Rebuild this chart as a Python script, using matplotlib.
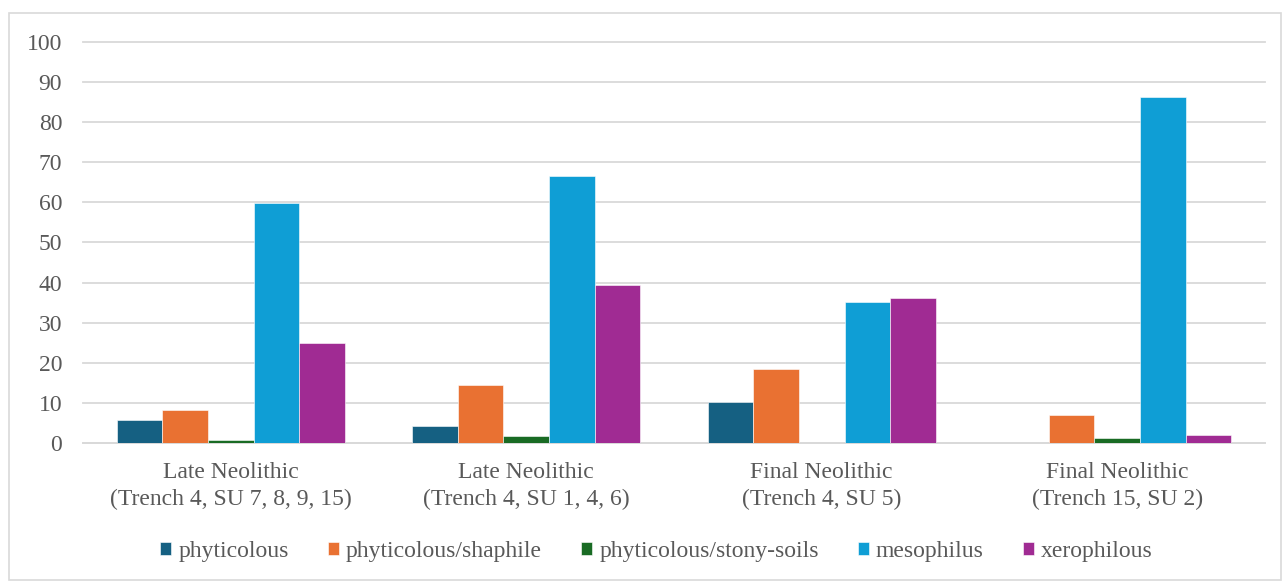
import numpy as np
import matplotlib.pyplot as plt
from matplotlib.patches import Rectangle

categories = ['Late Neolithic\n(Trench 4, SU 7, 8, 9, 15)',
              'Late Neolithic\n(Trench 4, SU 1, 4, 6)',
              'Final Neolithic\n(Trench 4, SU 5)',
              'Final Neolithic\n(Trench 15, SU 2)']
series = ['phyticolous', 'phyticolous/shaphile', 'phyticolous/stony-soils',
          'mesophilus', 'xerophilous']
phyticolous = [5.7, 4.3, 10.2, 0]
shaphile = [8.2, 14.4, 18.5, 7.0]
stony = [0.8, 1.7, 0, 1.2]
mesophilus = [59.9, 66.6, 35.1, 86.4]
xerophilous = [25.0, 39.4, 36.1, 2.0]
colors = ['#156082', '#e97132', '#196b24', '#0f9ed5', '#a02b93']

plt.rcParams['font.family'] = ['Liberation Serif', 'DejaVu Serif']
text_color = '#595959'
fs = 17

fig = plt.figure(figsize=(12.82, 5.81), dpi=100)
ax = fig.add_axes([83/1282, 1 - 443/581, (1265 - 83)/1282, (443 - 42)/581])

# light frame around the whole chart
fig.patches.append(Rectangle((9/1282, 0.002), 1 - 10/1282, 1 - 13/581 - 0.002,
                             transform=fig.transFigure, fill=False,
                             edgecolor='#d9d9d9', linewidth=1.2))

x = np.arange(len(categories))
width = 0.154
data = [phyticolous, shaphile, stony, mesophilus, xerophilous]
for i, (vals, name) in enumerate(zip(data, series)):
    ax.bar(x + (i - 2) * width, vals, width, color=colors[i], label=name,
           edgecolor='white', linewidth=0.4, zorder=3)

ax.set_xlim(-0.5, len(categories) - 0.5)
ax.set_ylim(0, 100)
ax.set_yticks(range(0, 101, 10))
ax.yaxis.grid(True, color='#d9d9d9', linewidth=1.3, zorder=0)
for gl in ax.get_ygridlines():
    gl.set_clip_on(False)
ax.set_axisbelow(True)
for s in ['top', 'right', 'left']:
    ax.spines[s].set_visible(False)
ax.spines['bottom'].set_color('#d9d9d9')
ax.spines['bottom'].set_linewidth(1.3)
ax.tick_params(axis='both', length=0, labelsize=fs, colors=text_color)
ax.tick_params(axis='y', pad=15)
ax.tick_params(axis='x', pad=14)
ax.set_xticks(x)
ax.set_xticklabels(categories, linespacing=1.32)

leg = fig.legend(loc='center', bbox_to_anchor=(656.5/1282, 1 - 551/581), ncol=5,
                 frameon=False, fontsize=fs, handlelength=0.47, handleheight=0.47,
                 handletextpad=0.3, columnspacing=1.65)
for t in leg.get_texts():
    t.set_color(text_color)

fig.savefig('out.png', dpi=100)
